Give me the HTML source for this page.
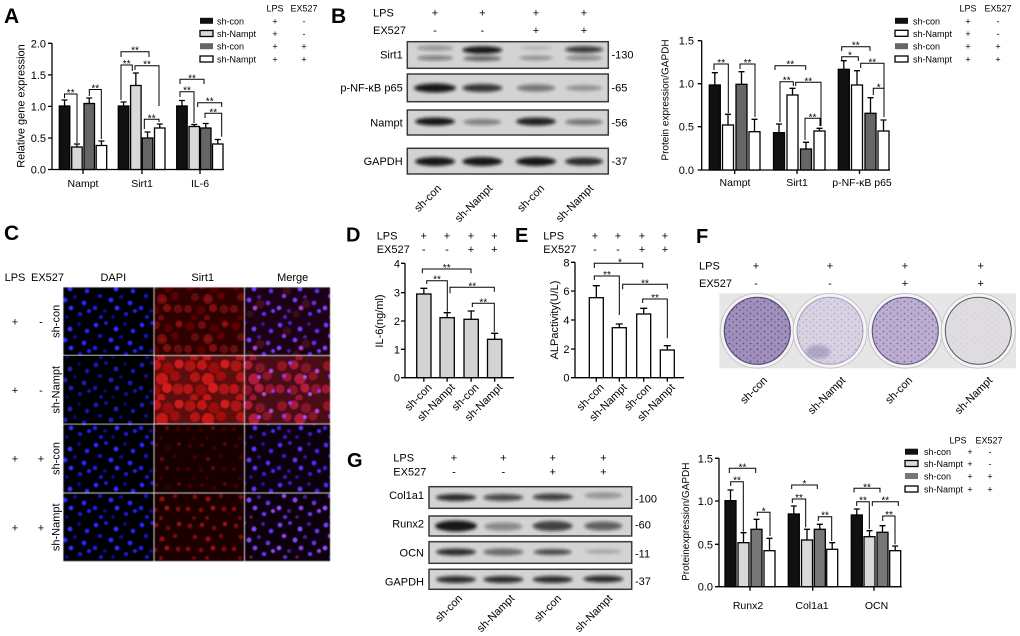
<!DOCTYPE html>
<html><head><meta charset="utf-8">
<style>
html,body{margin:0;padding:0;background:#fff;}
svg{display:block;font-family:"Liberation Sans",Arial,sans-serif;}
.L{font-size:21px;font-weight:bold;}
.L2{font-size:20px;font-weight:bold;}
.t{font-size:11px;}
.c{font-size:10.5px;text-anchor:middle;}
.y{font-size:10px;text-anchor:middle;}
.l{font-size:9px;}
.k{font-size:10px;text-anchor:middle;}
.e{text-anchor:end;}
.m{text-anchor:middle;}
.ax{stroke:#000;stroke-width:1.3;fill:none;}
.br{stroke:#000;stroke-width:1;fill:none;}
.eb{stroke:#000;stroke-width:1.3;fill:none;}
.b{stroke:#000;stroke-width:1.3;}
.bx{stroke:#3a3a3a;stroke-width:1.5;fill:#d3d3d3;}
</style></head><body>
<svg width="1020" height="636" viewBox="0 0 1020 636" xmlns="http://www.w3.org/2000/svg">
<defs>
<filter id="bl" x="-50%" y="-200%" width="200%" height="500%"><feGaussianBlur stdDeviation="1.7"/></filter>
<filter id="sf" x="-10%" y="-10%" width="120%" height="120%"><feGaussianBlur stdDeviation="0.6"/></filter>
<pattern id="pD" width="46" height="40" patternUnits="userSpaceOnUse">
<rect width="46" height="40" fill="#000"/>
<circle cx="4" cy="5" r="2.1" fill="#2a2aff"/><circle cx="14" cy="3" r="1.8" fill="#1a1ad0"/><circle cx="24" cy="9" r="2.2" fill="#3030ff"/><circle cx="33" cy="4" r="1.7" fill="#0c0c90"/><circle cx="41" cy="11" r="2" fill="#2525f0"/><circle cx="8" cy="16" r="1.9" fill="#1818c0"/><circle cx="19" cy="20" r="2.2" fill="#2b2bff"/><circle cx="29" cy="17" r="1.8" fill="#10109a"/><circle cx="38" cy="23" r="2.1" fill="#2a2aff"/><circle cx="3" cy="28" r="2" fill="#2020e0"/><circle cx="13" cy="31" r="1.7" fill="#0e0e8a"/><circle cx="25" cy="28" r="2.1" fill="#3030ff"/><circle cx="34" cy="34" r="1.9" fill="#1c1cc8"/><circle cx="43" cy="31" r="1.8" fill="#2424f0"/><circle cx="9" cy="37" r="1.8" fill="#1a1ad0"/><circle cx="21" cy="37" r="1.6" fill="#0c0c80"/>
</pattern>
<pattern id="pR1" width="46" height="40" patternUnits="userSpaceOnUse">
<rect width="46" height="40" fill="#2e0303"/>
<circle cx="6" cy="6" r="4.5" fill="#5a0606"/><circle cx="18" cy="5" r="4" fill="#6e0808"/><circle cx="30" cy="8" r="4.5" fill="#520606"/><circle cx="41" cy="4" r="3.5" fill="#7a0a0a"/><circle cx="11" cy="17" r="4" fill="#640707"/><circle cx="24" cy="19" r="5" fill="#720909"/><circle cx="37" cy="16" r="4" fill="#5c0606"/><circle cx="4" cy="29" r="4" fill="#6a0808"/><circle cx="17" cy="30" r="4.5" fill="#560606"/><circle cx="29" cy="28" r="4" fill="#7e0a0a"/><circle cx="40" cy="29" r="4.5" fill="#600707"/><circle cx="10" cy="38" r="3" fill="#5a0606"/><circle cx="23" cy="38" r="3" fill="#680808"/><circle cx="24" cy="19" r="1.8" fill="#a00e0e"/><circle cx="41" cy="4" r="1.5" fill="#b01010"/>
</pattern>
<pattern id="pR2" width="46" height="40" patternUnits="userSpaceOnUse">
<rect width="46" height="40" fill="#5e0707"/>
<circle cx="6" cy="6" r="5.5" fill="#a81212"/><circle cx="18" cy="5" r="5" fill="#c01616"/><circle cx="30" cy="8" r="5.5" fill="#9a1010"/><circle cx="41" cy="4" r="4.5" fill="#d01a1a"/><circle cx="11" cy="17" r="5" fill="#b41414"/><circle cx="24" cy="19" r="6" fill="#c81818"/><circle cx="37" cy="16" r="5" fill="#a01010"/><circle cx="4" cy="29" r="5" fill="#b81616"/><circle cx="17" cy="30" r="5.5" fill="#9c1010"/><circle cx="29" cy="28" r="5" fill="#d41c1c"/><circle cx="40" cy="29" r="5.5" fill="#a81212"/><circle cx="10" cy="38" r="4" fill="#b01414"/><circle cx="23" cy="38" r="4" fill="#c41818"/>
</pattern>
<pattern id="pR3" width="46" height="40" patternUnits="userSpaceOnUse">
<rect width="46" height="40" fill="#140000"/>
<circle cx="6" cy="6" r="2.2" fill="#420505"/><circle cx="18" cy="5" r="2" fill="#500606"/><circle cx="30" cy="8" r="2.2" fill="#3a0404"/><circle cx="41" cy="4" r="1.8" fill="#5a0707"/><circle cx="11" cy="17" r="2" fill="#480505"/><circle cx="24" cy="19" r="2.3" fill="#560707"/><circle cx="37" cy="16" r="2" fill="#3e0404"/><circle cx="4" cy="29" r="2" fill="#4c0606"/><circle cx="17" cy="30" r="2.2" fill="#3c0404"/><circle cx="29" cy="28" r="2" fill="#5a0707"/><circle cx="40" cy="29" r="2.2" fill="#440505"/><circle cx="10" cy="38" r="1.6" fill="#400505"/><circle cx="23" cy="38" r="1.6" fill="#4a0606"/>
</pattern>
<pattern id="pR4" width="46" height="40" patternUnits="userSpaceOnUse">
<rect width="46" height="40" fill="#1c0101"/>
<circle cx="6" cy="6" r="2.4" fill="#700c0c"/><circle cx="18" cy="5" r="2.2" fill="#8a1010"/><circle cx="30" cy="8" r="2.4" fill="#640a0a"/><circle cx="41" cy="4" r="2" fill="#961212"/><circle cx="11" cy="17" r="2.2" fill="#7a0e0e"/><circle cx="24" cy="19" r="2.5" fill="#900f0f"/><circle cx="37" cy="16" r="2.2" fill="#680a0a"/><circle cx="4" cy="29" r="2.2" fill="#800e0e"/><circle cx="17" cy="30" r="2.4" fill="#660a0a"/><circle cx="29" cy="28" r="2.2" fill="#9a1212"/><circle cx="40" cy="29" r="2.4" fill="#740c0c"/><circle cx="10" cy="38" r="1.8" fill="#6a0a0a"/><circle cx="23" cy="38" r="1.8" fill="#7e0e0e"/>
</pattern>
<pattern id="pM1" width="46" height="40" patternUnits="userSpaceOnUse">
<rect width="46" height="40" fill="#1a0316"/>
<circle cx="11" cy="11" r="4" fill="#3a0818"/><circle cx="30" cy="24" r="4.5" fill="#420a1c"/><circle cx="20" cy="34" r="3.5" fill="#3a0818"/>
<circle cx="4" cy="5" r="2.1" fill="#6a3aff"/><circle cx="14" cy="3" r="1.8" fill="#5028d0"/><circle cx="24" cy="9" r="2.2" fill="#7040ff"/><circle cx="33" cy="4" r="1.7" fill="#3a1a90"/><circle cx="41" cy="11" r="2" fill="#6030e8"/><circle cx="8" cy="16" r="1.9" fill="#8a40f0"/><circle cx="19" cy="20" r="2.2" fill="#7a3aff"/><circle cx="29" cy="17" r="1.8" fill="#4a2090"/><circle cx="38" cy="23" r="2.1" fill="#6a30d0"/><circle cx="3" cy="28" r="2" fill="#9040ff"/><circle cx="13" cy="31" r="1.7" fill="#4a2090"/><circle cx="25" cy="28" r="2.1" fill="#b040d0"/><circle cx="34" cy="34" r="1.9" fill="#6030e8"/><circle cx="43" cy="31" r="1.8" fill="#7040ff"/><circle cx="9" cy="37" r="1.8" fill="#5028d0"/>
</pattern>
<pattern id="pM2" width="46" height="40" patternUnits="userSpaceOnUse">
<rect width="46" height="40" fill="#4a0812"/>
<circle cx="6" cy="6" r="5" fill="#901428"/><circle cx="18" cy="5" r="4.5" fill="#a81a38"/><circle cx="30" cy="8" r="5" fill="#84122a"/><circle cx="11" cy="17" r="4.5" fill="#9c1830"/><circle cx="24" cy="19" r="5.5" fill="#b01c3c"/><circle cx="37" cy="16" r="4.5" fill="#8a1428"/><circle cx="4" cy="29" r="4.5" fill="#a01830"/><circle cx="17" cy="30" r="5" fill="#861228"/><circle cx="29" cy="28" r="4.5" fill="#b41e40"/><circle cx="40" cy="29" r="5" fill="#901428"/><circle cx="23" cy="38" r="3.5" fill="#a01830"/>
<circle cx="14" cy="3" r="1.8" fill="#a040ff"/><circle cx="41" cy="11" r="2" fill="#c048e0"/><circle cx="8" cy="16" r="1.9" fill="#8a40f0"/><circle cx="29" cy="17" r="1.8" fill="#b050ff"/><circle cx="13" cy="31" r="1.7" fill="#9a40f0"/><circle cx="34" cy="34" r="1.9" fill="#c050e0"/><circle cx="43" cy="31" r="1.8" fill="#8a40f0"/>
</pattern>
<pattern id="pM3" width="46" height="40" patternUnits="userSpaceOnUse">
<rect width="46" height="40" fill="#08000e"/>
<circle cx="4" cy="5" r="2.1" fill="#4a30f0"/><circle cx="14" cy="3" r="1.8" fill="#3a20c0"/><circle cx="24" cy="9" r="2.2" fill="#5a38ff"/><circle cx="33" cy="4" r="1.7" fill="#2a1690"/><circle cx="41" cy="11" r="2" fill="#4428e0"/><circle cx="8" cy="16" r="1.9" fill="#3a20c0"/><circle cx="19" cy="20" r="2.2" fill="#6a38f0"/><circle cx="29" cy="17" r="1.8" fill="#2a1690"/><circle cx="38" cy="23" r="2.1" fill="#5030ff"/><circle cx="3" cy="28" r="2" fill="#4020c8"/><circle cx="13" cy="31" r="1.7" fill="#2a1690"/><circle cx="25" cy="28" r="2.1" fill="#5a30ff"/><circle cx="34" cy="34" r="1.9" fill="#3a20c0"/><circle cx="43" cy="31" r="1.8" fill="#4a30f0"/><circle cx="9" cy="37" r="1.8" fill="#3a20c0"/><circle cx="21" cy="37" r="1.6" fill="#2a1690"/>
</pattern>
<pattern id="pM4" width="46" height="40" patternUnits="userSpaceOnUse">
<rect width="46" height="40" fill="#10000f"/>
<circle cx="4" cy="5" r="2.1" fill="#7a40ff"/><circle cx="14" cy="3" r="1.8" fill="#6030d0"/><circle cx="24" cy="9" r="2.2" fill="#8a48ff"/><circle cx="33" cy="4" r="1.7" fill="#4a2090"/><circle cx="41" cy="11" r="2" fill="#7038f0"/><circle cx="8" cy="16" r="1.9" fill="#9a48f0"/><circle cx="19" cy="20" r="2.2" fill="#8a48ff"/><circle cx="29" cy="17" r="1.8" fill="#4a2090"/><circle cx="38" cy="23" r="2.1" fill="#7030d8"/><circle cx="3" cy="28" r="2" fill="#9a50ff"/><circle cx="13" cy="31" r="1.7" fill="#4a2090"/><circle cx="25" cy="28" r="2.1" fill="#8a40f0"/><circle cx="34" cy="34" r="1.9" fill="#7038f0"/><circle cx="43" cy="31" r="1.8" fill="#9a48f0"/><circle cx="9" cy="37" r="1.8" fill="#6030d0"/><circle cx="21" cy="37" r="1.6" fill="#5a1a50"/>
</pattern>
<pattern id="pS" width="7" height="6" patternUnits="userSpaceOnUse">
<circle cx="1.5" cy="1.5" r="0.9" fill="#4a3a78"/><circle cx="5" cy="4" r="0.8" fill="#5a4888"/>
</pattern>
</defs>

<!-- ================= Panel A ================= -->
<text x="4" y="23" class="L">A</text>
<path class="ax" d="M52,43.3V169.5H224M48,43.3H52M48,74.9H52M48,106.4H52M48,138H52M48,169.5H52M83,169.5V174M142,169.5V174M200,169.5V174"/>
<g class="t e">
<text x="46" y="47.3">2.0</text><text x="46" y="78.9">1.5</text><text x="46" y="110.4">1.0</text><text x="46" y="142">0.5</text><text x="46" y="173.5">0.0</text>
</g>
<text class="t m" transform="translate(24.5,106) rotate(-90)">Relative gene expression</text>
<text class="c" x="83" y="187">Nampt</text><text class="c" x="142" y="187">Sirt1</text><text class="c" x="200" y="187">IL-6</text>
<g class="b">
<rect x="59.3" y="106" width="10.5" height="63.5" fill="#111"/>
<rect x="71.7" y="147" width="10.5" height="22.5" fill="#d9d9d9"/>
<rect x="84" y="103.5" width="10.5" height="66" fill="#666"/>
<rect x="96.2" y="145.5" width="10.5" height="24" fill="#fff"/>
<rect x="118.3" y="106" width="10.5" height="63.5" fill="#111"/>
<rect x="130.6" y="85.5" width="10.5" height="84" fill="#d9d9d9"/>
<rect x="142.3" y="138" width="10.5" height="31.5" fill="#666"/>
<rect x="154.5" y="128" width="10.5" height="41.5" fill="#fff"/>
<rect x="176.7" y="106" width="10.5" height="63.5" fill="#111"/>
<rect x="189" y="126.5" width="10.5" height="43" fill="#d9d9d9"/>
<rect x="200.5" y="128" width="10.5" height="41.5" fill="#666"/>
<rect x="212.5" y="144" width="10.5" height="25.5" fill="#fff"/>
</g>
<path class="eb" d="M64.55,106V100M61.55,100h6M76.95,147V144M73.95,144h6M89.25,103.5V98M86.25,98h6M101.45,145.5V141M98.45,141h6M123.55,106V102M120.55,102h6M135.85,85.5V73M132.85,73h6M147.55,138V132M144.55,132h6M159.75,128V124M156.75,124h6M181.95,106V100.5M178.95,100.5h6M194.25,126.5V124.5M191.25,124.5h6M205.75,128V123.5M202.75,123.5h6M217.75,144V139.5M214.75,139.5h6"/>
<path class="br" d="M64.5,98V94H77V143M89.3,96V89.5H101.3V139M121,57V51.7H149V57M121,100V65H132.3V71M135,70V65.7H159V106M144.3,129V119.3H159V122M180,84V79.3H204V84M180,97V91.7H194V123M197.7,107V102.7H221.7V107M205,118V113.3H221.7V136.7"/>
<g class="k">
<text x="70.7" y="96">**</text><text x="95.3" y="91.5">**</text><text x="135" y="53.7">**</text><text x="126.7" y="67">**</text><text x="147" y="67.7">**</text><text x="151.7" y="121.3">**</text><text x="192" y="81.3">**</text><text x="187" y="93.7">**</text><text x="209.7" y="104.7">**</text><text x="213.3" y="115.3">**</text>
</g>
<rect x="200" y="17.8" width="13" height="6" fill="#111"/>
<rect x="200" y="30.5" width="13" height="6" fill="#d9d9d9" class="b"/>
<rect x="200" y="43.2" width="13" height="6" fill="#666"/>
<rect x="200" y="56" width="13" height="6" fill="#fff" class="b"/>
<g class="l">
<text x="217" y="24.3">sh-con</text><text x="217" y="37">sh-Nampt</text><text x="217" y="49.7">sh-con</text><text x="217" y="62.5">sh-Nampt</text>
</g>
<g class="l m">
<text x="275" y="11.5">LPS</text><text x="304" y="11.5">EX527</text>
<text x="275" y="24.3">+</text><text x="275" y="37">+</text><text x="275" y="49.7">+</text><text x="275" y="62.5">+</text>
<text x="304" y="24.3">-</text><text x="304" y="37">-</text><text x="304" y="49.7">+</text><text x="304" y="62.5">+</text>
</g>

<!-- ================= Panel B blot ================= -->
<text x="331" y="23" class="L">B</text>
<text class="t" x="373" y="16.5">LPS</text>
<text class="t" x="373" y="34">EX527</text>
<g class="t m">
<text x="435" y="16.5">+</text><text x="482.3" y="16.5">+</text><text x="536" y="16.5">+</text><text x="584" y="16.5">+</text>
<text x="435" y="34">-</text><text x="482.3" y="34">-</text><text x="536" y="34">+</text><text x="584" y="34">+</text>
</g>
<rect class="bx" x="407.3" y="41.7" width="201" height="26.6"/>
<rect class="bx" x="407.3" y="74" width="201" height="27.7"/>
<rect class="bx" x="407.3" y="110" width="201" height="25"/>
<rect class="bx" x="407.3" y="148.3" width="201" height="25.7"/>
<g filter="url(#bl)" fill="#111">
<ellipse cx="435" cy="48" rx="18" ry="2.5" opacity=".35"/><ellipse cx="435" cy="58" rx="18" ry="2.5" opacity=".45"/>
<ellipse cx="482.3" cy="50" rx="20" ry="3.8" opacity=".95"/><ellipse cx="482.3" cy="58.5" rx="19" ry="2.5" opacity=".6"/>
<ellipse cx="536" cy="48" rx="16" ry="2" opacity=".15"/><ellipse cx="536" cy="58" rx="17" ry="2.5" opacity=".3"/>
<ellipse cx="584" cy="49.5" rx="19" ry="3.2" opacity=".8"/><ellipse cx="584" cy="58" rx="18" ry="2.5" opacity=".4"/>
<ellipse cx="435" cy="88" rx="21" ry="4.5" opacity=".95"/><ellipse cx="482.3" cy="88" rx="20" ry="4" opacity=".8"/><ellipse cx="536" cy="88" rx="19" ry="3.5" opacity=".5"/><ellipse cx="584" cy="88" rx="18" ry="3" opacity=".3"/>
<ellipse cx="435" cy="121.5" rx="20" ry="4" opacity=".95"/><ellipse cx="482.3" cy="122" rx="19" ry="3" opacity=".45"/><ellipse cx="536" cy="121.5" rx="20" ry="4" opacity=".9"/><ellipse cx="584" cy="122" rx="19" ry="3" opacity=".5"/>
<ellipse cx="435" cy="161.5" rx="20" ry="4.5" opacity=".95"/><ellipse cx="482.3" cy="161.5" rx="20" ry="4.5" opacity=".95"/><ellipse cx="536" cy="161.5" rx="20" ry="4.5" opacity=".95"/><ellipse cx="584" cy="161.5" rx="19" ry="4" opacity=".85"/>
</g>
<g class="t e">
<text x="402.7" y="58.5">Sirt1</text><text x="402.7" y="91.7">p-NF-κB p65</text><text x="402.7" y="126.5">Nampt</text><text x="402.7" y="165">GAPDH</text>
</g>
<g class="t">
<text x="611.5" y="58.5">-130</text><text x="611.5" y="91.7">-65</text><text x="611.5" y="126.5">-56</text><text x="611.5" y="165">-37</text>
</g>
<g class="t e">
<text transform="translate(442,189) rotate(-45)">sh-con</text>
<text transform="translate(493,189) rotate(-45)">sh-Nampt</text>
<text transform="translate(545,189) rotate(-45)">sh-con</text>
<text transform="translate(594,189) rotate(-45)">sh-Nampt</text>
</g>

<!-- ================= Panel B chart ================= -->
<path class="ax" d="M701.7,40.7V170H890M697.7,40.7H701.7M697.7,83.7H701.7M697.7,126.7H701.7M697.7,170H701.7M734.7,170V174M797,170V174M859.5,170V174"/>
<g class="t e">
<text x="694" y="44.7">1.5</text><text x="694" y="87.7">1.0</text><text x="694" y="130.7">0.5</text><text x="694" y="174">0.0</text>
</g>
<text class="y" transform="translate(668.5,100) rotate(-90)">Protein expression/GAPDH</text>
<text class="c" x="735" y="186">Nampt</text><text class="c" x="797" y="186">Sirt1</text><text class="c" x="862" y="186">p-NF-κB p65</text>
<g class="b">
<rect x="709.3" y="85" width="11" height="85" fill="#111"/>
<rect x="722.5" y="125" width="11" height="45" fill="#fff"/>
<rect x="736" y="84.3" width="11" height="85.7" fill="#666"/>
<rect x="749" y="131.7" width="11" height="38.3" fill="#fff"/>
<rect x="773.5" y="132.7" width="11" height="37.3" fill="#111"/>
<rect x="787" y="95" width="11" height="75" fill="#fff"/>
<rect x="800.5" y="149" width="11" height="21" fill="#666"/>
<rect x="814" y="131" width="11" height="39" fill="#fff"/>
<rect x="838.3" y="69.3" width="11" height="100.7" fill="#111"/>
<rect x="851.5" y="85" width="11" height="85" fill="#fff"/>
<rect x="865" y="113.3" width="11" height="56.7" fill="#666"/>
<rect x="878" y="131" width="11" height="39" fill="#fff"/>
</g>
<path class="eb" d="M714.8,85V72.7M711.8,72.7h6M728,125V114.3M725,114.3h6M741.5,84.3V71.7M738.5,71.7h6M754.5,131.7V119.3M751.5,119.3h6M779,132.7V124M776,124h6M792.5,95V88.3M789.5,88.3h6M806,149V142.3M803,142.3h6M819.5,131V128.3M816.5,128.3h6M843.8,69.3V60.7M840.8,60.7h6M857,85V70.7M854,70.7h6M870.5,113.3V97.7M867.5,97.7h6M883.5,131V120M880.5,120h6"/>
<path class="br" d="M714,70V64H728.3V113M740,69V64H755V117M775,70V65.7H805.7V70M780,122V81.7H793.3V86M795.7,86V82.3H821V126M805,140V118.3H820V126M841.7,51V46.7H870V51M841.7,60V56.7H858.3V61M860.7,68V63.3H884V117M873.3,95V88.3H884V117"/>
<g class="k">
<text x="721.2" y="66">**</text><text x="747.5" y="66">**</text><text x="790.3" y="67.7">**</text><text x="786.7" y="83.7">**</text><text x="808.3" y="84.3">**</text><text x="812.5" y="120.3">**</text><text x="855.8" y="48.7">**</text><text x="850" y="58.7">*</text><text x="872.3" y="65.3">**</text><text x="878.7" y="90.3">*</text>
</g>
<rect x="895" y="17.8" width="13" height="6" fill="#111"/>
<rect x="895" y="30.3" width="13" height="6" fill="#fff" class="b"/>
<rect x="895" y="43.2" width="13" height="6" fill="#666"/>
<rect x="895" y="56" width="13" height="6" fill="#fff" class="b"/>
<g class="l">
<text x="913" y="24.3">sh-con</text><text x="913" y="36.8">sh-Nampt</text><text x="913" y="49.7">sh-con</text><text x="913" y="62.5">sh-Nampt</text>
</g>
<g class="l m">
<text x="968" y="11.5">LPS</text><text x="998" y="11.5">EX527</text>
<text x="968" y="24.3">+</text><text x="968" y="36.8">+</text><text x="968" y="49.7">+</text><text x="968" y="62.5">+</text>
<text x="998" y="24.3">-</text><text x="998" y="36.8">-</text><text x="998" y="49.7">+</text><text x="998" y="62.5">+</text>
</g>

<!-- ================= Panel C ================= -->
<text x="4" y="240" class="L">C</text>
<g class="t m">
<text x="15" y="281">LPS</text><text x="47.5" y="281">EX527</text><text x="113.3" y="281">DAPI</text><text x="202.7" y="281">Sirt1</text><text x="292.7" y="281">Merge</text>
</g>
<rect x="63" y="287" width="267" height="274.5" fill="#d8d8d8"/>
<rect x="63.5" y="356" width="90" height="67.5" fill="#000"/>
<g filter="url(#sf)">
<rect x="63.5" y="287.5" width="90" height="67.5" fill="url(#pD)"/>
<rect x="154.5" y="287.5" width="89.5" height="67.5" fill="url(#pR1)"/>
<rect x="245" y="287.5" width="85" height="67.5" fill="url(#pM1)"/>
<rect x="63.5" y="356" width="90" height="67.5" fill="url(#pD)" opacity=".7"/>
<rect x="154.5" y="356" width="89.5" height="67.5" fill="url(#pR2)"/>
<rect x="245" y="356" width="85" height="67.5" fill="url(#pM2)"/>
<rect x="63.5" y="424.5" width="90" height="68" fill="url(#pD)"/>
<rect x="154.5" y="424.5" width="89.5" height="68" fill="url(#pR3)"/>
<rect x="245" y="424.5" width="85" height="68" fill="url(#pM3)"/>
<rect x="63.5" y="493.5" width="90" height="67.5" fill="url(#pD)"/>
<rect x="154.5" y="493.5" width="89.5" height="67.5" fill="url(#pR4)"/>
<rect x="245" y="493.5" width="85" height="67.5" fill="url(#pM4)"/>
</g>
<g class="t m">
<text x="15" y="325.3">+</text><text x="41" y="325.3">-</text>
<text x="15" y="393.8">+</text><text x="41" y="393.8">-</text>
<text x="15" y="462.5">+</text><text x="41" y="462.5">+</text>
<text x="15" y="531.3">+</text><text x="41" y="531.3">+</text>
<text transform="translate(59.5,321.3) rotate(-90)">sh-con</text>
<text transform="translate(59.5,389.8) rotate(-90)">sh-Nampt</text>
<text transform="translate(59.5,458.5) rotate(-90)">sh-con</text>
<text transform="translate(59.5,527.3) rotate(-90)">sh-Nampt</text>
</g>

<!-- ================= Panel D ================= -->
<text x="346" y="241.5" class="L2">D</text>
<text class="t" x="376.7" y="239.5">LPS</text><text class="t" x="376.7" y="253">EX527</text>
<g class="t m">
<text x="423.7" y="239.5">+</text><text x="447" y="239.5">+</text><text x="471" y="239.5">+</text><text x="494.3" y="239.5">+</text>
<text x="423.7" y="253">-</text><text x="447" y="253">-</text><text x="471" y="253">+</text><text x="494.3" y="253">+</text>
</g>
<path class="ax" d="M405,263.3V377.7H514M401,263.3H405M401,292.7H405M401,321H405M401,349.3H405M401,377.7H405M423.85,377.7V381.7M447.15,377.7V381.7M471.15,377.7V381.7M494.65,377.7V381.7"/>
<g class="t e">
<text x="400" y="267.3">4</text><text x="400" y="296.7">3</text><text x="400" y="325">2</text><text x="400" y="353.3">1</text><text x="400" y="381.7">0</text>
</g>
<text class="t m" transform="translate(383,321) rotate(-90)">IL-6(ng/ml)</text>
<g class="b" fill="#d3d3d3">
<rect x="416.7" y="294" width="14.3" height="83.7"/>
<rect x="440" y="317.7" width="14.3" height="60"/>
<rect x="464" y="319.3" width="14.3" height="58.4"/>
<rect x="487.5" y="339.3" width="14.3" height="38.4"/>
</g>
<path class="eb" d="M423.85,294V288.3M420.35,288.3h7M447.15,317.7V312.7M443.65,312.7h7M471.15,319.3V311M467.65,311h7M494.65,339.3V333.3M491.15,333.3h7"/>
<path class="br" d="M422.3,273.3V269H471V273.3M426.7,284V280.7H447.3V311.7M450,293.3V287.3H494.3V291.7M472.3,307V303.3H494.3V331.7"/>
<g class="k">
<text x="446.7" y="271">**</text><text x="437" y="282.7">**</text><text x="472.3" y="289.3">**</text><text x="483.3" y="305.3">**</text>
</g>
<g class="t e">
<text transform="translate(432.5,388) rotate(-45)">sh-con</text>
<text transform="translate(455.5,388) rotate(-45)">sh-Nampt</text>
<text transform="translate(479.5,388) rotate(-45)">sh-con</text>
<text transform="translate(503,388) rotate(-45)">sh-Nampt</text>
</g>

<!-- ================= Panel E ================= -->
<text x="515" y="242" class="L2">E</text>
<text class="t" x="543.3" y="239.5">LPS</text><text class="t" x="543.3" y="253">EX527</text>
<g class="t m">
<text x="595" y="239.5">+</text><text x="618" y="239.5">+</text><text x="642" y="239.5">+</text><text x="665" y="239.5">+</text>
<text x="595" y="253">-</text><text x="618" y="253">-</text><text x="642" y="253">+</text><text x="665" y="253">+</text>
</g>
<path class="ax" d="M575,262.3V377.7H684M571,262.3H575M571,291H575M571,320H575M571,349H575M571,377.7H575M596.3,377.7V381.7M619.3,377.7V381.7M643.7,377.7V381.7M667.3,377.7V381.7"/>
<g class="t e">
<text x="569.5" y="266.3">8</text><text x="569.5" y="295">6</text><text x="569.5" y="324">4</text><text x="569.5" y="353">2</text><text x="569.5" y="381.7">0</text>
</g>
<text class="t m" transform="translate(558,320) rotate(-90)">ALPactivity(U/L)</text>
<g class="b" fill="#fff">
<rect x="589.3" y="297.7" width="14" height="80"/>
<rect x="612.3" y="327.7" width="14" height="50"/>
<rect x="636.7" y="314" width="14" height="63.7"/>
<rect x="660.3" y="350" width="14" height="27.7"/>
</g>
<path class="eb" d="M596.3,297.7V285.7M592.8,285.7h7M619.3,327.7V324M615.8,324h7M643.7,314V308.3M640.2,308.3h7M667.3,350V345.7M663.8,345.7h7"/>
<path class="br" d="M594.3,268V263.3H642.7V268M594.3,280V276H619.3V315M622.7,289.3V284.3H667.3V288.7M642.7,303V299H667.3V338.3"/>
<g class="k">
<text x="620" y="265.3">*</text><text x="607" y="278">**</text><text x="645" y="286.3">**</text><text x="655" y="301">**</text>
</g>
<g class="t e">
<text transform="translate(604.5,388) rotate(-45)">sh-con</text>
<text transform="translate(627.5,388) rotate(-45)">sh-Nampt</text>
<text transform="translate(652,388) rotate(-45)">sh-con</text>
<text transform="translate(675.5,388) rotate(-45)">sh-Nampt</text>
</g>

<!-- ================= Panel F ================= -->
<text x="696" y="243" class="L2">F</text>
<text class="t" x="699" y="269.5">LPS</text><text class="t" x="699" y="287">EX527</text>
<g class="t m">
<text x="756" y="269.5">+</text><text x="830" y="269.5">+</text><text x="905" y="269.5">+</text><text x="980.7" y="269.5">+</text>
<text x="756" y="287">-</text><text x="830" y="287">-</text><text x="905" y="287">+</text><text x="980.7" y="287">+</text>
</g>
<rect x="719.3" y="293.3" width="296.7" height="75" fill="#e6e6e6"/>
<g stroke="#c4c4c4" stroke-width="1" fill="#f4f4f4">
<ellipse cx="757.3" cy="330.8" rx="37" ry="37.3"/>
<ellipse cx="830" cy="330.8" rx="37" ry="37.3"/>
<ellipse cx="905.3" cy="330.8" rx="37" ry="37.3"/>
<ellipse cx="978.3" cy="330.8" rx="37" ry="37.3"/>
</g>
<ellipse cx="757.3" cy="330.8" rx="33" ry="33.5" fill="#a090bc" stroke="#5a4a80" stroke-width="1.2"/>
<ellipse cx="757.3" cy="330.8" rx="33" ry="33.5" fill="url(#pS)" opacity=".8"/>
<ellipse cx="830" cy="330.8" rx="33" ry="33.5" fill="#d8d2e2" stroke="#a89cc0" stroke-width="1"/>
<ellipse cx="830" cy="330.8" rx="33" ry="33.5" fill="url(#pS)" opacity=".25"/>
<ellipse cx="818" cy="352" rx="12" ry="7" fill="#8a7aa8" opacity=".5" filter="url(#bl)"/>
<ellipse cx="905.3" cy="330.8" rx="33" ry="33.5" fill="#bcaed0" stroke="#6a5a90" stroke-width="1.2"/>
<ellipse cx="905.3" cy="330.8" rx="33" ry="33.5" fill="url(#pS)" opacity=".55"/>
<ellipse cx="978.3" cy="330.8" rx="33" ry="33.5" fill="#e0dde2" stroke="#5a5a5a" stroke-width="1"/>
<ellipse cx="978.3" cy="330.8" rx="33" ry="33.5" fill="url(#pS)" opacity=".1"/>
<g class="t e">
<text transform="translate(768,381) rotate(-45)">sh-con</text>
<text transform="translate(846,381) rotate(-45)">sh-Nampt</text>
<text transform="translate(913,381) rotate(-45)">sh-con</text>
<text transform="translate(993,381) rotate(-45)">sh-Nampt</text>
</g>

<!-- ================= Panel G blot ================= -->
<text x="347" y="467" class="L2">G</text>
<text class="t" x="393.3" y="461.5">LPS</text><text class="t" x="393.3" y="475.5">EX527</text>
<g class="t m">
<text x="454" y="461.5">+</text><text x="503.3" y="461.5">+</text><text x="552.7" y="461.5">+</text><text x="603.3" y="461.5">+</text>
<text x="454" y="475.5">-</text><text x="503.3" y="475.5">-</text><text x="552.7" y="475.5">+</text><text x="603.3" y="475.5">+</text>
</g>
<rect class="bx" x="429" y="486.7" width="202.7" height="21.6"/>
<rect class="bx" x="429" y="516" width="202.7" height="20"/>
<rect class="bx" x="429" y="541.7" width="202.7" height="21.6"/>
<rect class="bx" x="429" y="569.3" width="202.7" height="20"/>
<g filter="url(#bl)" fill="#111">
<ellipse cx="456" cy="497.5" rx="20" ry="3.5" opacity=".85"/><ellipse cx="503.3" cy="497.5" rx="20" ry="3.5" opacity=".7"/><ellipse cx="552.7" cy="497" rx="20" ry="3.5" opacity=".75"/><ellipse cx="603.3" cy="495.5" rx="19" ry="3" opacity=".35"/>
<ellipse cx="456" cy="526" rx="21" ry="5.5" opacity=".95"/><ellipse cx="503.3" cy="526.5" rx="19" ry="4" opacity=".4"/><ellipse cx="552.7" cy="526" rx="20" ry="5" opacity=".75"/><ellipse cx="603.3" cy="526" rx="19" ry="4.5" opacity=".6"/>
<ellipse cx="456" cy="552" rx="20" ry="3.5" opacity=".85"/><ellipse cx="503.3" cy="552" rx="20" ry="3.5" opacity=".55"/><ellipse cx="552.7" cy="552" rx="19" ry="3" opacity=".7"/><ellipse cx="603.3" cy="551.5" rx="18" ry="2.5" opacity=".2"/>
<ellipse cx="456" cy="579.5" rx="20" ry="3.5" opacity=".85"/><ellipse cx="503.3" cy="579.5" rx="20" ry="3.5" opacity=".85"/><ellipse cx="552.7" cy="579.5" rx="20" ry="3.5" opacity=".85"/><ellipse cx="603.3" cy="579" rx="20" ry="3.5" opacity=".85"/>
</g>
<g class="t e">
<text x="424" y="499">Col1a1</text><text x="424" y="527.3">Runx2</text><text x="424" y="556.3">OCN</text><text x="424" y="585.7">GAPDH</text>
</g>
<g class="t">
<text x="635" y="502.3">-100</text><text x="635" y="528.3">-60</text><text x="635" y="557.3">-11</text><text x="635" y="585">-37</text>
</g>
<g class="t e">
<text transform="translate(463,599) rotate(-45)">sh-con</text>
<text transform="translate(515,599) rotate(-45)">sh-Nampt</text>
<text transform="translate(562,599) rotate(-45)">sh-con</text>
<text transform="translate(613,599) rotate(-45)">sh-Nampt</text>
</g>

<!-- ================= Panel G chart ================= -->
<path class="ax" d="M719,458.3V586.7H901.7M715,458.3H719M715,501H719M715,544.3H719M715,586.7H719M750,586.7V590.7M812.7,586.7V590.7M874,586.7V590.7"/>
<g class="t e">
<text x="713" y="462.3">1.5</text><text x="713" y="505">1.0</text><text x="713" y="548.3">0.5</text><text x="713" y="590.7">0.0</text>
</g>
<text class="y" transform="translate(689,521.7) rotate(-90)">Proteinexpression/GAPDH</text>
<text class="c" x="748" y="609">Runx2</text><text class="c" x="812" y="609">Col1a1</text><text class="c" x="876.5" y="609">OCN</text>
<g class="b">
<rect x="725" y="500.7" width="11" height="86" fill="#111"/>
<rect x="738" y="542.7" width="11" height="44" fill="#d9d9d9"/>
<rect x="751" y="529.3" width="11" height="57.4" fill="#777"/>
<rect x="764" y="550.7" width="11" height="36" fill="#fff"/>
<rect x="788.3" y="514" width="11" height="72.7" fill="#111"/>
<rect x="801.5" y="540" width="11" height="46.7" fill="#d9d9d9"/>
<rect x="814.3" y="529.3" width="11" height="57.4" fill="#777"/>
<rect x="826.7" y="549.3" width="11" height="37.4" fill="#fff"/>
<rect x="851.3" y="515" width="11" height="71.7" fill="#111"/>
<rect x="864" y="536.7" width="11" height="50" fill="#d9d9d9"/>
<rect x="877" y="532.3" width="11" height="54.4" fill="#777"/>
<rect x="889.7" y="550.7" width="11" height="36" fill="#fff"/>
</g>
<path class="eb" d="M730.5,500.7V490M727.5,490h6M743.5,542.7V532.7M740.5,532.7h6M756.5,529.3V519.3M753.5,519.3h6M769.5,550.7V538.3M766.5,538.3h6M793.8,514V506M790.8,506h6M807,540V529.3M804,529.3h6M819.8,529.3V524.3M816.8,524.3h6M832.2,549.3V542.7M829.2,542.7h6M856.8,515V509M853.8,509h6M869.5,536.7V530.7M866.5,530.7h6M882.5,532.3V525.7M879.5,525.7h6M895.2,550.7V546M892.2,546h6"/>
<path class="br" d="M729.3,473V468.3H755.7V473M730.7,486V481.7H743.3V531.7M757.3,516V512.3H770V536M791.7,489V485H817.3V489M792.3,503V499H805.7V527.3M818.3,521V516.7H831.7V541M854,492.5V488.3H880V492.5M856.7,506V501.7H869.3V529M872.3,506V501.7H898.3V506M882.7,521V516H895V544.3"/>
<g class="k">
<text x="742.5" y="470.3">**</text><text x="737" y="483.7">**</text><text x="763.7" y="514.3">*</text><text x="804.5" y="487">*</text><text x="799" y="501">**</text><text x="825" y="518.7">**</text><text x="867" y="490.3">**</text><text x="863" y="503.7">**</text><text x="885.3" y="503.7">**</text><text x="889" y="518">**</text>
</g>
<rect x="905" y="448.7" width="13" height="6" fill="#111"/>
<rect x="905" y="460.5" width="13" height="6" fill="#d9d9d9" class="b"/>
<rect x="905" y="473" width="13" height="6" fill="#777"/>
<rect x="905" y="486" width="13" height="6" fill="#fff" class="b"/>
<g class="l">
<text x="924" y="455.2">sh-con</text><text x="924" y="467">sh-Nampt</text><text x="924" y="479.5">sh-con</text><text x="924" y="492.5">sh-Nampt</text>
</g>
<g class="l m">
<text x="958" y="443.5">LPS</text><text x="989" y="443.5">EX527</text>
<text x="970" y="455.2">+</text><text x="970" y="467">+</text><text x="970" y="479.5">+</text><text x="970" y="492.5">+</text>
<text x="990" y="455.2">-</text><text x="990" y="467">-</text><text x="990" y="479.5">+</text><text x="990" y="492.5">+</text>
</g>
</svg>
</body></html>
